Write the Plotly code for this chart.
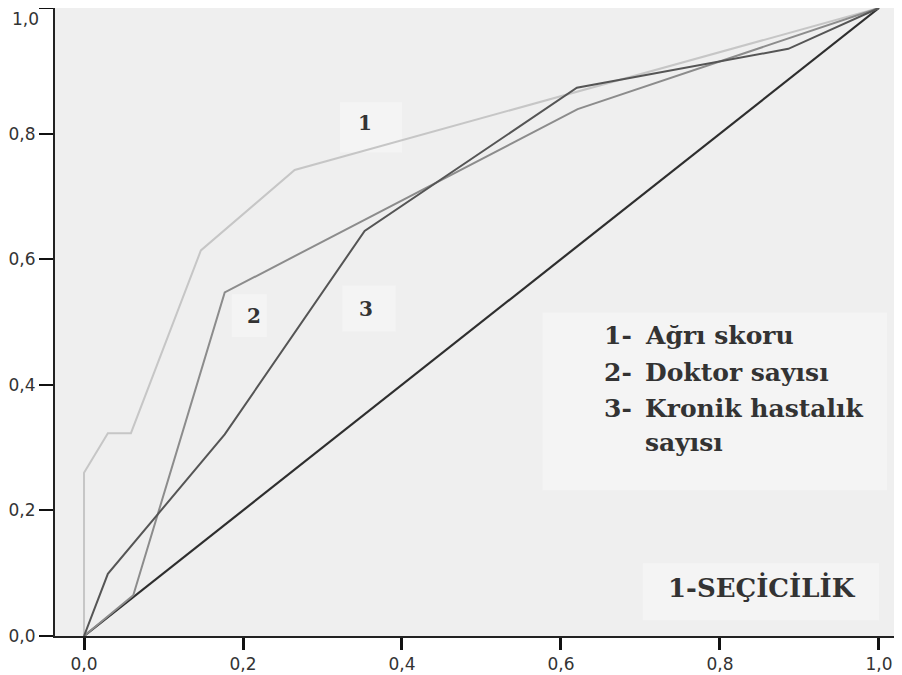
import plotly.graph_objects as go

# ROC data (1 - specificity, sensitivity)
agri_x = [0.0, 0.0, 0.030, 0.059, 0.147, 0.265, 1.0]
agri_y = [0.0, 0.26, 0.323, 0.323, 0.614, 0.742, 1.0]

doktor_x = [0.0, 0.062, 0.177, 0.621, 1.0]
doktor_y = [0.0, 0.065, 0.547, 0.839, 1.0]

kronik_x = [0.0, 0.030, 0.177, 0.353, 0.620, 0.886, 1.0]
kronik_y = [0.0, 0.099, 0.321, 0.645, 0.873, 0.935, 1.0]

ref_x = [0.0, 1.0]
ref_y = [0.0, 1.0]

tick_vals = [0.0, 0.2, 0.4, 0.6, 0.8, 1.0]
tick_text = ["0,0", "0,2", "0,4", "0,6", "0,8", "1,0"]

legend_nums = ["1-", "2-", "3-"]
legend_texts = ["Ağrı skoru", "Doktor sayısı", "Kronik hastalık", "sayısı"]
axis_label = "1-SEÇİCİLİK"

fig = go.Figure()
fig.add_trace(go.Scatter(x=ref_x, y=ref_y, mode="lines",
                         line=dict(color="#2e2e2e", width=2.2), showlegend=False))
fig.add_trace(go.Scatter(x=agri_x, y=agri_y, mode="lines",
                         line=dict(color="#c6c6c6", width=2), showlegend=False))
fig.add_trace(go.Scatter(x=doktor_x, y=doktor_y, mode="lines",
                         line=dict(color="#8c8c8c", width=2), showlegend=False))
fig.add_trace(go.Scatter(x=kronik_x, y=kronik_y, mode="lines",
                         line=dict(color="#555555", width=2), showlegend=False))

box_color = "#f4f4f4"
shapes = [
    dict(type="rect", xref="x", yref="y", x0=0.577, x1=1.01, y0=0.232, y1=0.515,
         fillcolor=box_color, line=dict(width=0), layer="below"),
    dict(type="rect", xref="x", yref="y", x0=0.703, x1=1.0, y0=0.025, y1=0.116,
         fillcolor=box_color, line=dict(width=0), layer="below"),
    dict(type="rect", xref="x", yref="y", x0=0.322, x1=0.4, y0=0.77, y1=0.85,
         fillcolor=box_color, line=dict(width=0), layer="below"),
    dict(type="rect", xref="x", yref="y", x0=0.186, x1=0.23, y0=0.476, y1=0.544,
         fillcolor=box_color, line=dict(width=0), layer="below"),
    dict(type="rect", xref="x", yref="y", x0=0.325, x1=0.392, y0=0.485, y1=0.558,
         fillcolor=box_color, line=dict(width=0), layer="below"),
]

serif = "DejaVu Serif"
tfont = dict(family=serif, size=25, color="#333333")
nfont = dict(family=serif, size=20, color="#333333")
tick_font = dict(family="DejaVu Sans", size=17, color="#333333")
annotations = [
    dict(x=0.353, y=0.817, text="<b>1</b>", showarrow=False, font=nfont),
    dict(x=0.214, y=0.510, text="<b>2</b>", showarrow=False, font=nfont),
    dict(x=0.355, y=0.520, text="<b>3</b>", showarrow=False, font=nfont),
    dict(x=0.853, y=0.078, text="<b>" + axis_label + "</b>", showarrow=False,
         font=dict(family=serif, size=26, color="#333333")),
]
num_y = [0.4785, 0.4197, 0.362]
text_y = [0.4785, 0.4197, 0.362, 0.3076]
for n, yy in zip(legend_nums, num_y):
    annotations.append(dict(x=0.652, y=yy, text="<b>" + n + "</b>", showarrow=False,
                            xanchor="left", font=tfont))
for t, yy in zip(legend_texts, text_y):
    annotations.append(dict(x=0.703, y=yy, text="<b>" + t + "</b>", showarrow=False,
                            xanchor="left", font=tfont))
for a in annotations:
    a["xref"] = "x"
    a["yref"] = "y"

# top y tick label drawn as annotation so it is not clipped at the page edge
annotations.append(dict(xref="paper", yref="y", x=0, y=tick_vals[-1], text=tick_text[-1],
                        showarrow=False, xanchor="right", yanchor="top",
                        xshift=-15, yshift=0, borderpad=0, font=tick_font))
y_ticktext = tick_text[:-1] + [""]

fig.update_layout(
    width=894, height=667,
    margin=dict(l=47, r=0, t=0, b=39, autoexpand=False),
    paper_bgcolor="white",
    plot_bgcolor="#efefef",
    shapes=shapes,
    annotations=annotations,
    xaxis=dict(range=[-0.0365, 1.029], tickvals=tick_vals, ticktext=tick_text,
               showgrid=False, zeroline=False, showline=True, mirror=True,
               linecolor="#222222", linewidth=2, ticks="outside", ticklen=12,
               tickwidth=3, tickcolor="#111111", tickfont=tick_font,
               ticklabeloverflow="allow"),
    yaxis=dict(range=[0, 1], tickvals=tick_vals, ticktext=y_ticktext,
               showgrid=False, zeroline=False, showline=True,
               linecolor="#222222", linewidth=2, ticks="outside", ticklen=14,
               tickwidth=2, tickcolor="#111111", tickfont=tick_font,
               ticklabeloverflow="allow"),
)

fig.write_html("out.html")
